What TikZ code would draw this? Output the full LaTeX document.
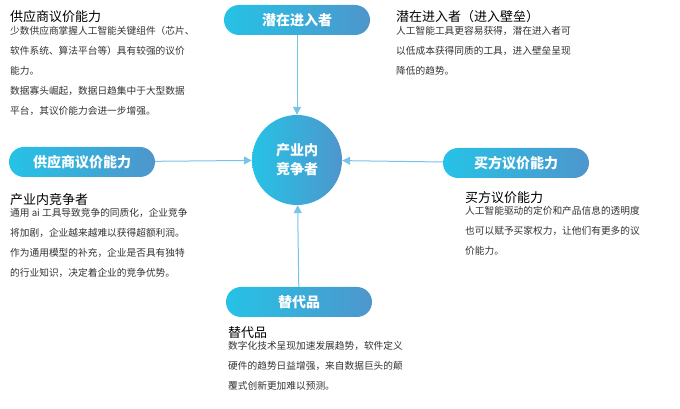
\documentclass[tikz,border=0pt]{standalone}
\usepackage{fontspec}
\setmainfont{Noto Sans CJK SC}
\usetikzlibrary{arrows.meta,positioning}
\definecolor{pillleft}{RGB}{38,194,230}
\definecolor{pillright}{RGB}{78,150,204}
\definecolor{arrowblue}{RGB}{120,195,232}
\definecolor{bodygray}{RGB}{50,50,50}
\tikzset{
  pill/.style={rounded corners=15pt, minimum width=146pt, minimum height=30pt,
    left color=pillleft, right color=pillright, text=white, font=\fontsize{14}{14}\selectfont\bfseries},
  heading/.style={anchor=north west, inner sep=0pt, font=\fontsize{13}{14}\selectfont},
  bodytext/.style={anchor=north west, inner sep=0pt, align=left, text=bodygray,
    font=\fontsize{9.7}{20}\selectfont},
  flow/.style={-{Triangle[length=8pt,width=8pt]}, arrowblue, line width=1pt}
}
\begin{document}
\begin{tikzpicture}[x=1pt,y=1pt]
    \useasboundingbox (0,0) rectangle (680,409);
    % Centre and outer forces
    \node[circle, minimum size=90pt, left color=pillleft, right color=pillright, text=white,
      align=center, font=\fontsize{14}{19}\selectfont\bfseries] (rivals) at (297,249) {产业内\\竞争者};
    \node[pill] (entrants) at (297,389) {潜在进入者};
    \node[pill] (suppliers) at (82,247) {供应商议价能力};
    \node[pill] (buyers) at (516,246) {买方议价能力};
    \node[pill] (substitutes) at (299,107) {替代品};

    % Arrows
    \draw[flow] (entrants) -- (rivals);
    \draw[flow] (suppliers) -- (rivals);
    \draw[flow] (buyers) -- (rivals);
    \draw[flow] (substitutes) -- (rivals);

    % Text blocks
    \node[heading] (supT) at (10,399) {供应商议价能力};
    \node[bodytext, below=3pt of supT.south west, anchor=north west] {少数供应商掌握人工智能关键组件（芯片、\\软件系统、算法平台等）具有较强的议价\\能力。\\数据寡头崛起，数据日趋集中于大型数据\\平台，其议价能力会进一步增强。};
    \node[heading] (entT) at (396,399) {潜在进入者（进入壁垒）};
    \node[bodytext, below=3pt of entT.south west, anchor=north west] {人工智能工具更容易获得，潜在进入者可\\以低成本获得同质的工具，进入壁垒呈现\\降低的趋势。};
    \node[heading] (rivT) at (10,216) {产业内竞争者};
    \node[bodytext, below=3pt of rivT.south west, anchor=north west] {通用 ai 工具导致竞争的同质化，企业竞争\\将加剧，企业越来越难以获得超额利润。\\作为通用模型的补充，企业是否具有独特\\的行业知识，决定着企业的竞争优势。};
    \node[heading] (buyT) at (465,218) {买方议价能力};
    \node[bodytext, below=3pt of buyT.south west, anchor=north west] {人工智能驱动的定价和产品信息的透明度\\也可以赋予买家权力，让他们有更多的议\\价能力。};
    \node[heading] (subT) at (228,83) {替代品};
    \node[bodytext, below=3pt of subT.south west, anchor=north west] {数字化技术呈现加速发展趋势，软件定义\\硬件的趋势日益增强，来自数据巨头的颠\\覆式创新更加难以预测。};
\end{tikzpicture}
\end{document}
